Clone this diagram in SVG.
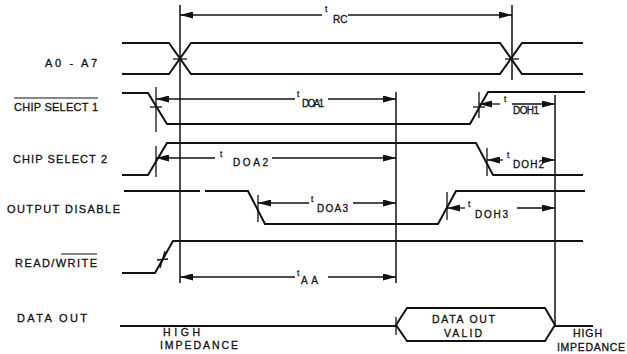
<svg xmlns="http://www.w3.org/2000/svg" width="627" height="354" viewBox="0 0 627 354">
<defs>
<marker id="ah" viewBox="0 0 13 7" refX="13" refY="3.5" markerWidth="13" markerHeight="7" markerUnits="userSpaceOnUse" orient="auto">
<path d="M0,0 L13,3.5 L0,7 z" fill="#111"/>
</marker>
<style>
.wave{fill:none;stroke:#111;stroke-width:2;stroke-linejoin:miter}
.ref{fill:none;stroke:#111;stroke-width:1.5}
.tick{fill:none;stroke:#111;stroke-width:1.3}
.arr{fill:none;stroke:#111;stroke-width:1.3;marker-end:url(#ah)}
.lbl{font-family:"Liberation Sans",Arial,sans-serif;font-size:11px;fill:#111;stroke:#111;stroke-width:0.3}
.sm{font-family:"Liberation Sans",Arial,sans-serif;font-size:10.5px;fill:#111;stroke:#111;stroke-width:0.3}
.sub{font-family:"Liberation Sans",Arial,sans-serif;font-size:10px;fill:#111;stroke:#111;stroke-width:0.3}
.sup{font-family:"Liberation Sans",Arial,sans-serif;font-size:8.5px;fill:#111;stroke:#111;stroke-width:0.25}
.ov{stroke:#111;stroke-width:1.2}
</style>
</defs>
<rect width="627" height="354" fill="#fff"/>

<g id="labels">
<text class="lbl" x="45" y="67" textLength="52" lengthAdjust="spacing">A0 - A7</text>
<text class="lbl" x="14" y="111" textLength="84" lengthAdjust="spacing">CHIP SELECT 1</text>
<line class="ov" x1="14" y1="98" x2="98" y2="98"/>
<text class="lbl" x="13" y="163" textLength="94" lengthAdjust="spacing">CHIP SELECT 2</text>
<text class="lbl" x="7" y="213" textLength="113" lengthAdjust="spacing">OUTPUT DISABLE</text>
<text class="lbl" x="15" y="267" textLength="82" lengthAdjust="spacing">READ/WRITE</text>
<line class="ov" x1="61" y1="254" x2="97" y2="254"/>
<text class="lbl" x="17" y="322" textLength="70" lengthAdjust="spacing">DATA OUT</text>
</g>

<g id="ref-lines">
<line class="ref" x1="180" y1="5" x2="180" y2="283"/>
<line class="ref" x1="512" y1="5" x2="512" y2="80"/>
<line class="ref" x1="396" y1="92" x2="396" y2="283"/>
<line class="ref" x1="555" y1="95" x2="555" y2="327"/>
</g>

<g id="a0-a7">
<path class="wave" d="M122,43 H169 L191,74 H500 L522,43 H583"/>
<path class="wave" d="M122,74 H169 L191,43 H500 L522,74 H583"/>
<line class="tick" x1="173" y1="59" x2="187" y2="59"/>
<line class="tick" x1="505" y1="59" x2="519" y2="59"/>
</g>

<g id="chip-select-1">
<path class="wave" d="M122,93 H148 L167,124 H470 L488,92 H585"/>
<line class="tick" x1="156" y1="87" x2="156" y2="132"/>
<line class="tick" x1="150" y1="107" x2="162" y2="107"/>
<line class="tick" x1="479" y1="92" x2="479" y2="118"/>
<line class="tick" x1="473" y1="107" x2="485" y2="107"/>
</g>

<g id="chip-select-2">
<path class="wave" d="M122,175 H148 L167,143 H476 L493,175 H583"/>
<line class="tick" x1="156" y1="146" x2="156" y2="177"/>
<line class="tick" x1="487" y1="148" x2="487" y2="176"/>
</g>

<g id="output-disable">
<path class="wave" d="M124,191 H200 M205,191 H248 L265,224 H438 L456,191 H585"/>
<line class="tick" x1="258" y1="195" x2="258" y2="222"/>
<line class="tick" x1="447" y1="192" x2="447" y2="220"/>
</g>

<g id="read-write">
<path class="wave" d="M122,273 H155 L173,241 H583"/>
<line class="tick" x1="160" y1="268" x2="165" y2="251"/>
<line class="tick" x1="157" y1="260" x2="168" y2="259"/>
</g>

<g id="data-out">
<path class="wave" d="M120,326 H396"/>
<path class="wave" d="M396,325 L407,308 H545 L555,325 L545,341 H407 Z"/>
<path class="wave" d="M555,326 H593"/>
<line class="tick" x1="396" y1="317" x2="396" y2="335"/>
<text class="sm" x="163" y="336" textLength="37" lengthAdjust="spacing">HIGH</text>
<text class="sm" x="160" y="349" textLength="78" lengthAdjust="spacing">IMPEDANCE</text>
<text class="sm" x="432" y="323" textLength="63" lengthAdjust="spacing">DATA OUT</text>
<text class="sm" x="444" y="337" textLength="38" lengthAdjust="spacing">VALID</text>
<text class="sm" x="573" y="337" textLength="29" lengthAdjust="spacing">HIGH</text>
<text class="sm" x="557" y="351" textLength="68" lengthAdjust="spacing">IMPEDANCE</text>
</g>

<g id="connectors">
<path class="arr" d="M322,15 H180"/>
<path class="arr" d="M348,15 H512"/>
<text class="sup" x="325" y="12">t</text>
<text class="sub" x="333" y="23">RC</text>

<path class="arr" d="M295,99 H156"/>
<path class="arr" d="M328,99 H396"/>
<text class="sup" x="297" y="97">t</text>
<text class="sub" x="302" y="107" textLength="22" lengthAdjust="spacing">DOA1</text>

<path class="arr" d="M500,104 H479"/>
<path class="arr" d="M512,104 H555"/>
<text class="sup" x="504" y="102">t</text>
<text class="sub" x="513" y="114" textLength="26" lengthAdjust="spacing">DOH1</text>

<path class="arr" d="M215,158 H156"/>
<path class="arr" d="M272,158 H396"/>
<text class="sup" x="220" y="157">t</text>
<text class="sub" x="233" y="166" textLength="35" lengthAdjust="spacing">DOA2</text>

<path class="arr" d="M503,160 H487"/>
<path class="arr" d="M545,160 H555"/>
<text class="sup" x="507" y="158">t</text>
<text class="sub" x="513" y="168" textLength="31" lengthAdjust="spacing">DOH2</text>

<path class="arr" d="M309,203 H258"/>
<path class="arr" d="M353,203 H396"/>
<text class="sup" x="311" y="202">t</text>
<text class="sub" x="317" y="212" textLength="31" lengthAdjust="spacing">DOA3</text>

<path class="arr" d="M465,208 H447"/>
<path class="arr" d="M517,208 H555"/>
<text class="sup" x="468" y="207">t</text>
<text class="sub" x="475" y="218" textLength="33" lengthAdjust="spacing">DOH3</text>

<path class="arr" d="M295,277 H180"/>
<path class="arr" d="M328,277 H396"/>
<text class="sup" x="297" y="276">t</text>
<text class="sub" x="301" y="284" textLength="17" lengthAdjust="spacing">AA</text>
</g>
</svg>
